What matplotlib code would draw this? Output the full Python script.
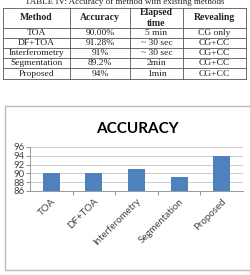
import matplotlib.pyplot as plt
from matplotlib.patches import Rectangle
from matplotlib.lines import Line2D

# table data
headers = ['Method', 'Accuracy', 'Elapsed\ntime', 'Revealing']
methods = ['TOA', 'DF+TOA', 'Interferometry', 'Segmentation', 'Proposed']
acc_text = ['90.00%', '91.28%', '91%', '89.2%', '94%']
elapsed = ['5 min', '~ 30 sec', '~ 30 sec', '2min', '1min']
revealing = ['CG only', 'CG+CC', 'CG+CC', 'CG+CC', 'CG+CC']

# chart data
acc_values = [90.0, 90.2, 91.0, 89.2, 94.0]
yticks = [86, 88, 90, 92, 94, 96]

W, H = 251, 275
fig = plt.figure(figsize=(W / 100, H / 100), dpi=100)

def fx(px):
    return px / W

def fy(py):
    return 1 - py / H

def box(x0, y0, x1, y1):
    return [fx(x0), fy(y1), (x1 - x0) / W, (y1 - y0) / H]

# caption, cut at the top like the scan
fig.text(fx(125), fy(1.5), 'TABLE IV: Accuracy of method with existing methods',
         ha='center', va='center', fontsize=6.5, family='Liberation Serif', color='#222222')

# table drawn by hand
col_x = [3, 70, 130, 183, 246]
row_y = [8, 28, 38, 48, 58, 68, 79]
for yy in row_y:
    fig.add_artist(Line2D([fx(col_x[0]), fx(col_x[-1])], [fy(yy), fy(yy)],
                          color='#555555', lw=0.6, transform=fig.transFigure))
for xx in col_x:
    fig.add_artist(Line2D([fx(xx), fx(xx)], [fy(row_y[0]), fy(row_y[-1])],
                          color='#555555', lw=0.6, transform=fig.transFigure))

for c, h in enumerate(headers):
    fig.text(fx((col_x[c] + col_x[c + 1]) / 2), fy((row_y[0] + row_y[1]) / 2), h,
             ha='center', va='center', fontsize=7, fontweight='bold',
             family='Liberation Serif', color='#222222', linespacing=1.35)

cols = [methods, acc_text, elapsed, revealing]
for c, col in enumerate(cols):
    for r, val in enumerate(col):
        fig.text(fx((col_x[c] + col_x[c + 1]) / 2), fy((row_y[r + 1] + row_y[r + 2]) / 2 + 0.3),
                 val, ha='center', va='center', fontsize=6.8,
                 family='Liberation Serif', color='#222222')

# chart frame
fig.patches.append(Rectangle((fx(5), fy(270)), 250 / W, 164 / H,
                             transform=fig.transFigure, fill=False,
                             edgecolor='#bbbbbb', linewidth=1.0))
fig.text(fx(137), fy(129), 'ACCURACY', ha='center', va='center',
         fontsize=11, fontweight='bold', family='Lato', color='black')

ax = fig.add_axes(box(30, 147, 243, 191))
x = list(range(len(methods)))
ax.bar(x, acc_values, width=0.4, color='#4f81bd', zorder=3)
ax.set_ylim(86, 96)
ax.set_xlim(-0.5, len(methods) - 0.5)
ax.set_yticks(yticks)
ax.set_yticklabels([str(v) for v in yticks], fontsize=6.8, family='Lato', color='#444444')
ax.set_xticks([i + 0.5 for i in x[:-1]])
ax.set_xticklabels([])
ax.set_xticks(x, minor=True)
ax.set_xticklabels(methods, minor=True, rotation=45, ha='right', va='top',
                   rotation_mode='anchor', fontsize=7, family='Lato', color='#444444')
ax.tick_params(axis='x', which='minor', length=0, pad=4)
ax.tick_params(axis='x', which='major', length=3, color='#999999', direction='out')
ax.tick_params(axis='y', length=3, color='#999999', pad=1)
ax.grid(axis='y', color='#cccccc', linewidth=0.7, zorder=0)
for s in ['top', 'right']:
    ax.spines[s].set_visible(False)
for s in ['left', 'bottom']:
    ax.spines[s].set_color('#999999')
    ax.spines[s].set_linewidth(0.7)

fig.savefig('out.png', dpi=100)
